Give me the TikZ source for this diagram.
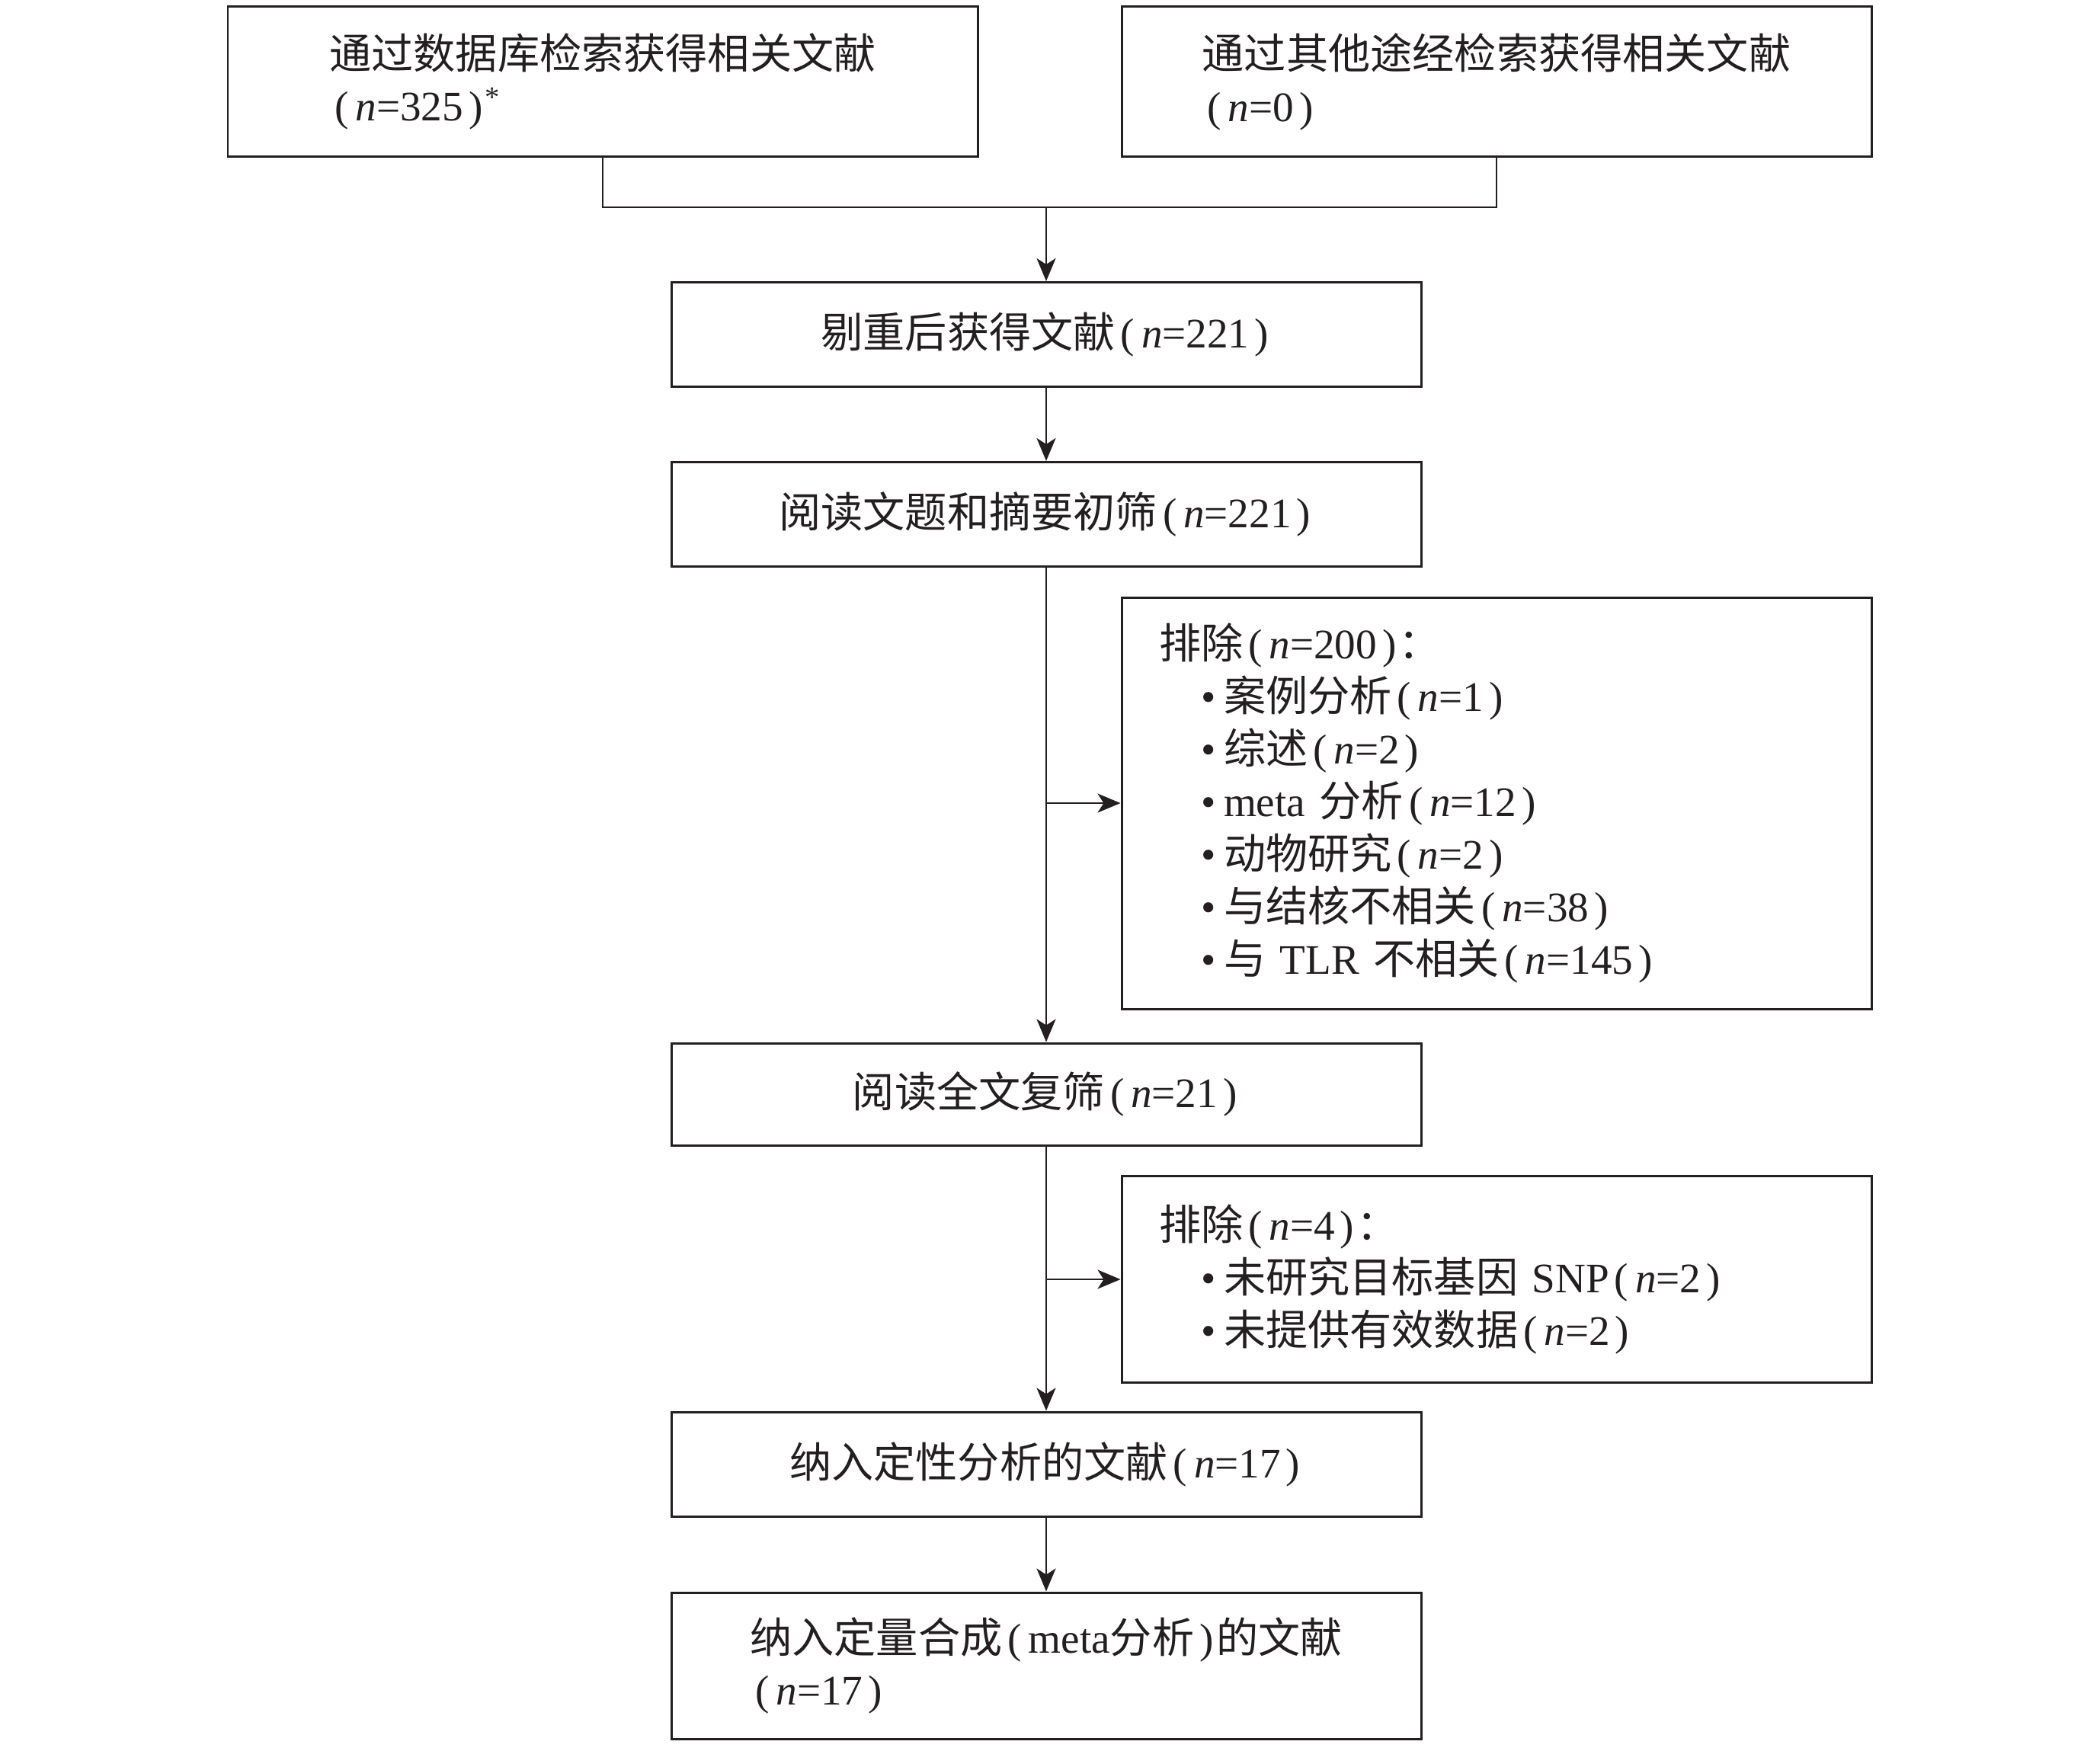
\documentclass[tikz,border=0pt]{standalone}
\usepackage{fontspec}
\setmainfont{Liberation Serif}
\newfontfamily\cjk{Noto Sans CJK SC}
\usetikzlibrary{arrows.meta}
\definecolor{ink}{HTML}{231F20}
\newcommand\zh[1]{{\cjk #1}}
\newcommand\nv{\textit{n}}
\newcommand\Lp{\kern2pt(\kern2.5pt}
\newcommand\Rp{\kern2pt)\kern1pt}
\newcommand\bul{\hspace*{1em}•\kern3pt}
\newcommand\fsz{\fontsize{15.7}{19.6}\selectfont}
\begin{document}
\begin{tikzpicture}[
  box/.style={draw=ink, text=ink, line width=0.85pt, minimum width=9.84cm, inner sep=0pt, font=\fsz, align=left},
  exbox/.style={box, text width=8.86cm, inner xsep=0.49cm},
  arr/.style={draw=ink, line width=0.8pt, -{Stealth[length=0.30cm,width=0.25cm,inset=0.08cm]}},
  ln/.style={draw=ink, line width=0.8pt}]
\useasboundingbox (0,0) rectangle (27.56,-22.97);

\node[box, minimum height=1.97cm] (b1) at (7.91,-1.07)
  {\zh{通过数据库检索获得相关文献}\\\Lp\nv=325\Rp\textsuperscript{*}};
\node[box, minimum height=1.97cm] (b2) at (19.64,-1.07)
  {\zh{通过其他途经检索获得相关文献}\\\Lp\nv=0\Rp};
\node[box, minimum height=1.37cm] (b3) at (13.73,-4.39)
  {\zh{剔重后获得文献}\Lp\nv=221\Rp};
\node[box, minimum height=1.37cm] (b4) at (13.73,-6.75)
  {\zh{阅读文题和摘要初筛}\Lp\nv=221\Rp};
\node[exbox, minimum height=5.40cm] (ex1) at (19.64,-10.54)
  {\zh{排除}\Lp\nv=200\Rp\zh{：}\\
   \bul\zh{案例分析}\Lp\nv=1\Rp\\
   \bul\zh{综述}\Lp\nv=2\Rp\\
   \bul meta \zh{分析}\Lp\nv=12\Rp\\
   \bul\zh{动物研究}\Lp\nv=2\Rp\\
   \bul\zh{与结核不相关}\Lp\nv=38\Rp\\
   \bul\zh{与} TLR \zh{不相关}\Lp\nv=145\Rp};
\node[box, minimum height=1.34cm] (b5) at (13.73,-14.36)
  {\zh{阅读全文复筛}\Lp\nv=21\Rp};
\node[exbox, minimum height=2.71cm] (ex2) at (19.64,-16.79)
  {\zh{排除}\Lp\nv=4\Rp\zh{：}\\
   \bul\zh{未研究目标基因} SNP\Lp\nv=2\Rp\\
   \bul\zh{未提供有效数据}\Lp\nv=2\Rp};
\node[box, minimum height=1.37cm] (b6) at (13.73,-19.215)
  {\zh{纳入定性分析的文献}\Lp\nv=17\Rp};
\node[box, minimum height=1.92cm] (b7) at (13.73,-21.86)
  {\zh{纳入定量合成}\Lp meta\zh{分析}\Rp\zh{的文献}\\\Lp\nv=17\Rp};

\coordinate (mj) at (13.73,-2.72);
\draw[ln] (b1.south) |- (mj) -| (b2.south);
\draw[arr] (mj) -- (b3);
\draw[arr] (b3) -- (b4);
\draw[arr] (b4) -- (b5);
\draw[arr] (b4.south |- ex1.west) -- (ex1.west);
\draw[arr] (b5) -- (b6);
\draw[arr] (b5.south |- ex2.west) -- (ex2.west);
\draw[arr] (b6) -- (b7);
\end{tikzpicture}
\end{document}
